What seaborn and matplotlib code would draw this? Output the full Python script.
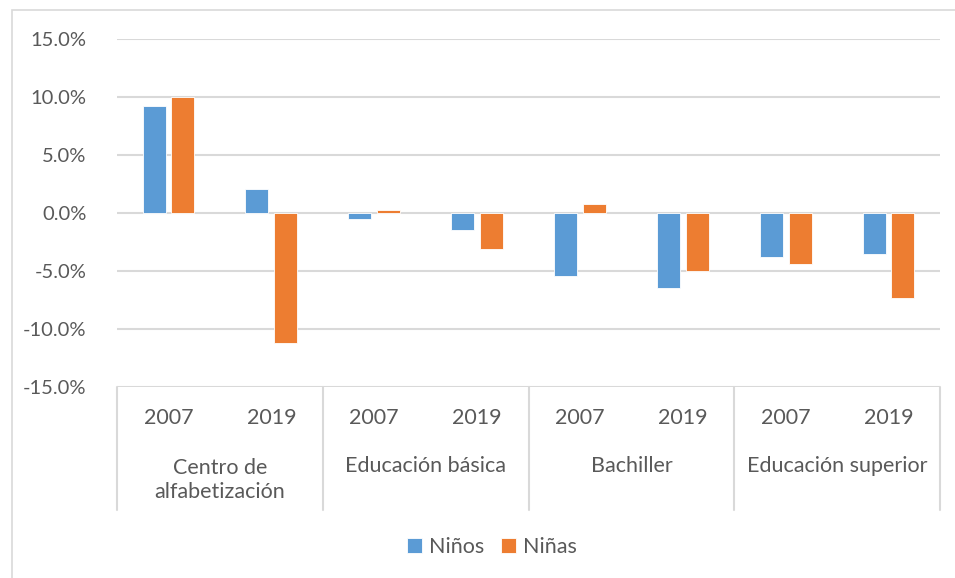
import matplotlib
matplotlib.use("Agg")
import matplotlib.pyplot as plt
import seaborn as sns
import pandas as pd
from matplotlib.patches import Rectangle
from matplotlib.transforms import blended_transform_factory

# ---- data ----
levels = ["Centro de\nalfabetización", "Educación básica", "Bachiller", "Educación superior"]
years = ["2007", "2019"]
ninos = [9.2, 2.1, -0.5, -1.5, -5.4, -6.5, -3.8, -3.5]
ninas = [10.0, -11.2, 0.3, -3.1, 0.8, -5.0, -4.4, -7.3]
series = ["Niños", "Niñas"]
yticks = [-15, -10, -5, 0, 5, 10, 15]

slots = [f"{lv}|{yr}" for lv in levels for yr in years]
df = pd.DataFrame({
    "slot": slots * 2,
    "value": ninos + ninas,
    "sexo": [series[0]] * len(slots) + [series[1]] * len(slots),
})

sns.set_theme(style="white")
plt.rcParams["font.family"] = ["Lato", "DejaVu Sans"]
txt = "#595959"
grid = "#D9D9D9"
fs = 15.5

fig = plt.figure(figsize=(9.55, 5.78), dpi=100)
ax = fig.add_axes([117 / 955, 1 - 387 / 578, (940 - 117) / 955, (387 - 39) / 578])

sns.barplot(data=df, x="slot", y="value", hue="sexo", order=slots,
            palette=["#5B9BD5", "#ED7D31"], saturation=1, width=0.56, gap=0.2,
            edgecolor="white", linewidth=0.6, ax=ax, legend=True, zorder=3)

ax.set_ylim(-15, 15)
ax.set_xlim(-0.5, len(slots) - 0.5)
ax.set_yticks(yticks)
ax.set_yticklabels([f"{v:.1f}%" for v in yticks], color=txt, fontsize=14.5)
ax.tick_params(axis="y", length=0, pad=22)
ax.set_xticks([])
ax.set_xlabel("")
ax.set_ylabel("")
for s in ax.spines.values():
    s.set_visible(False)
for v in yticks:
    ax.axhline(v, color=grid, lw=1.5, zorder=1)

tr = blended_transform_factory(ax.transData, ax.transAxes)
for i, s in enumerate(slots):
    ax.text(i, (387 - 418) / 348, s.split("|")[1], transform=tr, ha="center",
            va="center", fontsize=fs, color=txt)
for g, lv in enumerate(levels):
    xc = 2 * g + 0.5
    if "\n" in lv:
        ax.text(xc, (387 - 480) / 348, lv, transform=tr, ha="center", va="center",
                fontsize=fs, color=txt, linespacing=1.3)
    else:
        ax.text(xc, (387 - 466) / 348, lv, transform=tr, ha="center", va="center",
                fontsize=fs, color=txt)
for b in range(len(levels) + 1):
    ax.plot([2 * b - 0.5] * 2, [0, (387 - 510) / 348], transform=tr, color=grid,
            lw=1.5, clip_on=False)

handles, labels = ax.get_legend_handles_labels()
ax.get_legend().remove()
fig.legend(handles, labels, loc="center", bbox_to_anchor=(492 / 955, 1 - 547 / 578),
           ncol=2, frameon=False, fontsize=fs, labelcolor=txt, handlelength=0.7,
           handleheight=0.7, handletextpad=0.3, columnspacing=0.8)

fig.patches.append(Rectangle((12 / 955, -0.05), 1.1, 1 - 10 / 578 + 0.05,
                             transform=fig.transFigure, fill=False,
                             edgecolor=grid, lw=1.2))

fig.savefig("out.png", dpi=100)
